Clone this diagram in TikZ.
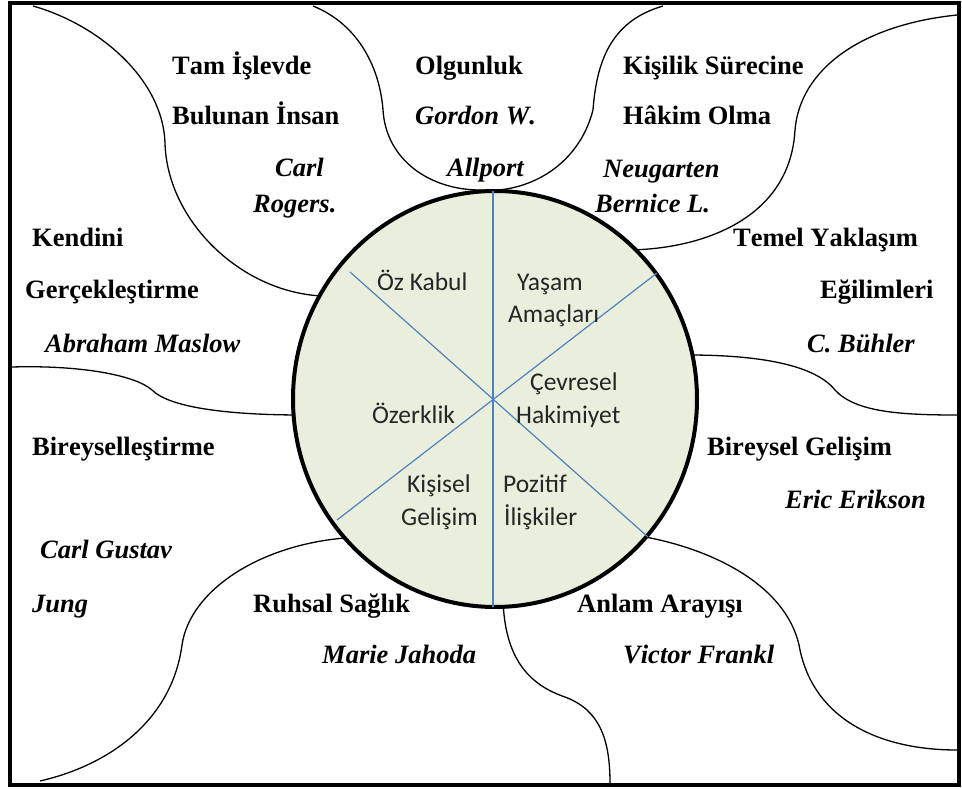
\documentclass[tikz,border=0pt]{standalone}
\usepackage{fontspec}
\setmainfont{Liberation Serif}[Kerning=Off]
\newfontfamily\calibri{Carlito}
\definecolor{circfill}{RGB}{234,238,221}
\definecolor{divline}{RGB}{79,129,189}
\begin{document}
\begin{tikzpicture}[x=1pt,y=-1pt,
  bt/.style={font=\fontsize{26.5}{30}\selectfont\bfseries, anchor=base west, inner sep=0pt},
  it/.style={font=\fontsize{26.5}{30}\selectfont\bfseries\itshape, anchor=base west, inner sep=0pt},
  ct/.style={font=\calibri\fontsize{25.5}{30}\selectfont, anchor=base west, inner sep=0pt, text=black!85},
  wave/.style={line width=1.3pt},
  divider/.style={draw=divline, line width=1.2pt}]
\useasboundingbox (0,0) rectangle (962,789);
\fill[white] (0,0) rectangle (962,789);
% curved boundaries
\draw[wave] (33,6) .. controls (100,25) and (163,80) .. (165,143)
  .. controls (167,220) and (240,292) .. (322,296);
\draw[wave] (313,6) .. controls (360,25) and (380,70) .. (383,110)
  .. controls (386,160) and (430,190) .. (480,190)
  .. controls (525,194) and (578,168) .. (593,110)
  .. controls (597,55) and (615,20) .. (663,6);
\draw[wave] (957,15) .. controls (860,25) and (800,70) .. (795,130)
  .. controls (790,220) and (700,250) .. (625,250);
\draw[wave] (688,355) .. controls (760,355) and (815,365) .. (835,390)
  .. controls (855,412) and (900,415) .. (957,415);
\draw[wave] (12,367) .. controls (80,365) and (135,375) .. (152,390)
  .. controls (170,408) and (230,415) .. (302,415);
\draw[wave] (345,538) .. controls (260,545) and (190,590) .. (182,645)
  .. controls (172,720) and (110,765) .. (40,781);
\draw[wave] (503,600) .. controls (505,660) and (530,685) .. (565,697)
  .. controls (600,710) and (610,740) .. (610,783);
\draw[wave] (640,536) .. controls (720,550) and (790,590) .. (800,650)
  .. controls (815,720) and (880,750) .. (957,750);
% central circle
\draw[fill=circfill, line width=4pt] (495,399) ellipse [x radius=202, y radius=208];
\draw[divider] (493,191) -- (493,607);
\draw[divider] (350,272) -- (648,537);
\draw[divider] (657,273) -- (337,520);
% frame
\draw[line width=4.5pt] (10,3) rectangle (959,785);
% circle labels
\node[ct] (ozk) at (377,290) {Öz Kabul};
\node[ct] (yas) at (517,290) {Yaşam};
\node[ct] (ama) at (508,322) {Amaçları};
\node[ct] (cev) at (530,390) {Çevresel};
\node[ct] (hak) at (516,423) {Hakimiyet};
\node[ct] (oze) at (372,423) {Özerklik};
\node[ct] (kis) at (407,492) {Kişisel};
\node[ct] (gel) at (401,525) {Gelişim};
\node[ct] (poz) at (503,492) {Pozitif};
\node[ct] (ili) at (504,525) {İlişkiler};
% outer labels
\node[bt] (t1) at (172,75) {Tam İşlevde};
\node[bt] (t2) at (172,125) {Bulunan İnsan};
\node[it] (t3) at (275,177) {Carl};
\node[it] (t4) at (253,212) {Rogers.};
\node[bt] (o1) at (415,75) {Olgunluk};
\node[it] (o2) at (415,125) {Gordon W.};
\node[it] (o3) at (447,177) {Allport};
\node[bt] (k1) at (623,75) {Kişilik Sürecine};
\node[bt] (k2) at (623,125) {Hâkim Olma};
\node[it] (k3) at (603,178) {Neugarten};
\node[it] (k4) at (595,212) {Bernice L.};
\node[bt] (m1) at (32,247) {Kendini};
\node[bt] (m2) at (25,298) {Gerçekleştirme};
\node[it] (m3) at (45,352) {Abraham Maslow};
\node[bt] (y1) at (733,247) {Temel Yaklaşım};
\node[bt] (y2) at (820,298) {Eğilimleri};
\node[it] (y3) at (807,352) {C. Bühler};
\node[bt] (b1) at (32,455) {Bireyselleştirme};
\node[it] (b2) at (40,558) {Carl Gustav};
\node[it] (b3) at (32,612) {Jung};
\node[bt] (e1) at (707,455) {Bireysel Gelişim};
\node[it] (e2) at (785,508) {Eric Erikson};
\node[bt] (r1) at (253,612) {Ruhsal Sağlık};
\node[it] (r2) at (322,663) {Marie Jahoda};
\node[bt] (a1) at (577,612) {Anlam Arayışı};
\node[it] (a2) at (623,663) {Victor Frankl};
\end{tikzpicture}
\end{document}
